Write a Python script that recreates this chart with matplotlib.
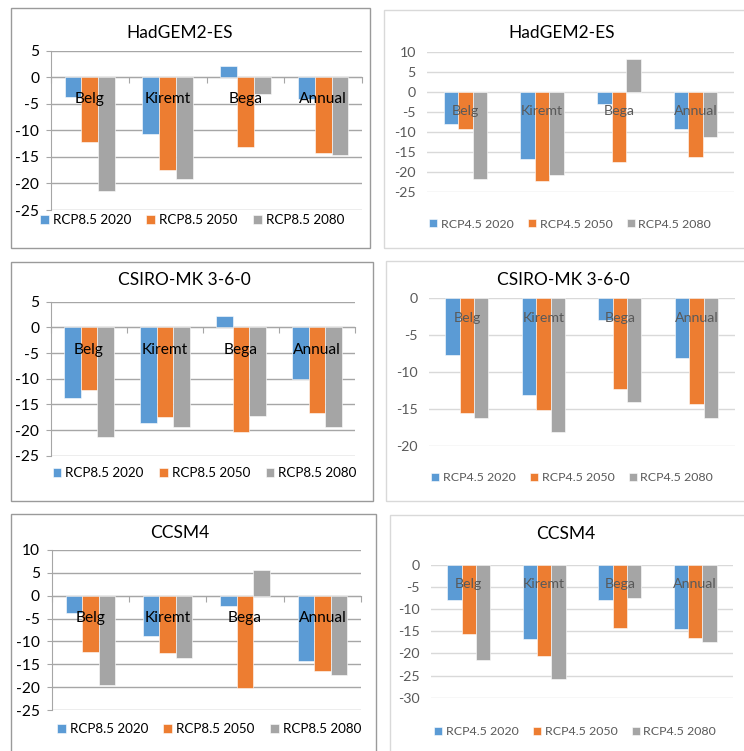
import matplotlib
matplotlib.use("Agg")
import matplotlib.pyplot as plt
from matplotlib.patches import Rectangle

plt.rcParams["font.family"] = ["Lato", "DejaVu Sans"]

W, H = 744, 751

seasons = ["Belg", "Kiremt", "Bega", "Annual"]
years = ["2020", "2050", "2080"]
colors = ["#5B9BD5", "#ED7D31", "#A5A5A5"]

# HadGEM2-ES
hadgem_85_2020 = [-3.8, -10.7, 2.2, -4.1]
hadgem_85_2050 = [-12.2, -17.5, -13.2, -14.3]
hadgem_85_2080 = [-21.5, -19.2, -3.1, -14.6]
hadgem_45_2020 = [-7.9, -16.8, -3.1, -9.3]
hadgem_45_2050 = [-9.2, -22.1, -17.4, -16.2]
hadgem_45_2080 = [-21.6, -20.7, 8.2, -11.3]

# CSIRO-MK 3-6-0
csiro_85_2020 = [-13.8, -18.7, 2.2, -10.1]
csiro_85_2050 = [-12.2, -17.5, -20.3, -16.7]
csiro_85_2080 = [-21.4, -19.5, -17.3, -19.4]
csiro_45_2020 = [-7.8, -13.2, -3.0, -8.1]
csiro_45_2050 = [-15.6, -15.2, -12.3, -14.4]
csiro_45_2080 = [-16.2, -18.2, -14.1, -16.2]

# CCSM4
ccsm4_85_2020 = [-3.8, -8.8, -2.2, -14.3]
ccsm4_85_2050 = [-12.2, -12.5, -20.2, -16.4]
ccsm4_85_2080 = [-19.5, -13.7, 5.6, -17.3]
ccsm4_45_2020 = [-7.8, -16.7, -8.0, -14.5]
ccsm4_45_2050 = [-15.7, -20.6, -14.3, -16.6]
ccsm4_45_2080 = [-21.5, -25.7, -7.5, -17.4]

fig = plt.figure(figsize=(W / 100, H / 100), dpi=100)
fig.patch.set_facecolor("white")


def fx(x):
    return x / W


def fy(y):
    return 1 - y / H


def frame(x0, y0, x1, y1, color):
    fig.patches.append(Rectangle((fx(x0), fy(y1)), fx(x1 - x0), (y1 - y0) / H,
                                 transform=fig.transFigure, fill=False,
                                 edgecolor=color, linewidth=1.0, zorder=0))


def panel(title, scenario, series, box, axes_px, ylim, step, bar_w, title_xy,
          legend_xy, label_off, dark):
    frame(*box, color="#9a9a9a" if dark else "#d9d9d9")
    x0, y0, x1, y1 = axes_px
    ax = fig.add_axes([fx(x0), fy(y1), fx(x1 - x0), (y1 - y0) / H])
    ax.set_facecolor("none")
    txt_col = "black" if dark else "#595959"
    grid_col = "#a6a6a6" if dark else "#d9d9d9"
    fs = 11.2 if dark else 10.2
    lfs = 9.6 if dark else 8.9

    xs = range(len(seasons))
    for k, (vals, col) in enumerate(zip(series, colors)):
        ax.bar([x + (k - 1) * bar_w for x in xs], vals, width=bar_w, color=col,
               edgecolor="white", linewidth=0.4, zorder=3,
               label=f"{scenario} {years[k]}")

    ax.set_xlim(-0.5, len(seasons) - 0.5)
    ax.set_ylim(*ylim)
    ax.set_yticks(range(ylim[0], ylim[1] + 1, step))
    ax.yaxis.grid(True, color=grid_col, linewidth=1.0, zorder=0)
    ax.set_axisbelow(True)
    for s in ["top", "right"]:
        ax.spines[s].set_visible(False)

    if dark:
        ax.spines["left"].set_color(grid_col)
        ax.spines["bottom"].set_position(("data", 0))
        ax.spines["bottom"].set_color(grid_col)
        ax.set_xticks([i + 0.5 for i in range(-1, len(seasons))])
        ax.tick_params(axis="x", direction="out", length=4, color=grid_col,
                       labelbottom=False)
        ax.tick_params(axis="y", length=3.5, color=grid_col, pad=5.0,
                       labelsize=fs, labelcolor=txt_col)
    else:
        ax.spines["left"].set_visible(False)
        ax.spines["bottom"].set_visible(False)
        ax.set_xticks([])
        ax.tick_params(axis="y", length=0, pad=8.0, labelsize=fs,
                       labelcolor=txt_col)

    ax.set_yticklabels([str(v) for v in ax.get_yticks().astype(int)])

    for i, name in enumerate(seasons):
        ax.annotate(name, xy=(i, 0), xytext=(0, -label_off), textcoords="offset points",
                    ha="center", va="center", fontsize=fs, color=txt_col, zorder=5)

    fig.text(fx(title_xy[0]), fy(title_xy[1]), title, ha="center", va="center",
             fontsize=12.5, color="black")

    h, lab = ax.get_legend_handles_labels()
    fig.legend(h, lab, loc="center", bbox_to_anchor=(fx(legend_xy[0]), fy(legend_xy[1])),
               ncol=3, frameon=False, fontsize=lfs, labelcolor=txt_col,
               handlelength=0.66, handleheight=0.66, handletextpad=0.3,
               columnspacing=1.15, borderpad=0, borderaxespad=0)
    return ax


panel("HadGEM2-ES", "RCP8.5", [hadgem_85_2020, hadgem_85_2050, hadgem_85_2080],
      (11, 8, 370, 248), (51, 50.7, 362, 210), (-25, 5), 5, 0.216,
      (180, 33), (192, 220), 16, True)
panel("HadGEM2-ES", "RCP4.5", [hadgem_45_2020, hadgem_45_2050, hadgem_45_2080],
      (384, 10, 750, 248), (427, 51.7, 734, 192.3), (-25, 10), 5, 0.19,
      (561.5, 33), (570, 224), 14, False)
panel("CSIRO-MK 3-6-0", "RCP8.5", [csiro_85_2020, csiro_85_2050, csiro_85_2080],
      (11, 262, 373, 501), (51, 301.7, 355, 455.7), (-25, 5), 5, 0.22,
      (184, 280), (204.7, 473.3), 16, True)
panel("CSIRO-MK 3-6-0", "RCP4.5", [csiro_45_2020, csiro_45_2050, csiro_45_2080],
      (386, 261, 750, 501), (428.7, 297.7, 734.7, 445.7), (-20, 0), 5, 0.187,
      (563.7, 280), (572, 477.7), 14.4, False)
panel("CCSM4", "RCP8.5", [ccsm4_85_2020, ccsm4_85_2050, ccsm4_85_2080],
      (11, 514, 376, 760), (51.7, 549.7, 361, 710.3), (-25, 10), 5, 0.213,
      (179.5, 533.3), (209, 729), 16, True)
panel("CCSM4", "RCP4.5", [ccsm4_45_2020, ccsm4_45_2050, ccsm4_45_2080],
      (390, 515, 750, 760), (431, 565, 733, 697.7), (-30, 0), 5, 0.19,
      (565.8, 534.3), (575, 731.7), 13.7, False)

fig.savefig("out.png", dpi=100, facecolor="white")
